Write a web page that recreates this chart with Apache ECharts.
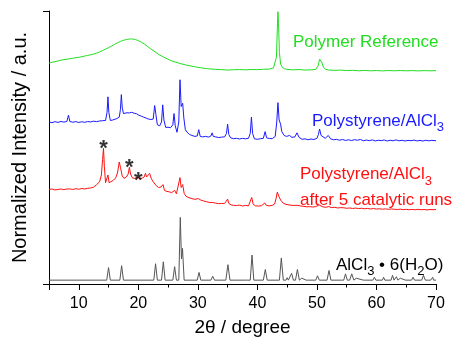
<!DOCTYPE html>
<html><head><meta charset="utf-8">
<script src="https://cdn.jsdelivr.net/npm/echarts@6/dist/echarts.min.js"></script>
<style>html,body{margin:0;padding:0;background:#fff}#c{width:457px;height:342px}</style>
</head><body><div id="c"></div>
<script>
// ---- data (2θ in degrees, intensity in arbitrary units above each trace's own baseline) ----
const xTickLabels = [10, 20, 30, 40, 50, 60, 70];
const traceNames = ['AlCl3·6(H2O)', 'Polystyrene/AlCl3 after 5 catalytic runs', 'Polystyrene/AlCl3', 'Polymer Reference'];
const traceOffsets = [4, 77, 148, 220];

const alcl3Hydrate = [
  [5,0],[14.7,0],[15.0,13],[15.3,0],[16.9,0],[17.2,15],[17.5,0],[22.6,0],[22.9,17],[23.2,0],
  [23.9,0],[24.2,19],[24.5,0],[25.8,0],[26.1,14],[26.4,0],[26.8,0],[27.05,65],[27.25,22],[27.42,33],
  [27.7,0],[29.9,0],[30.2,8],[30.5,0],[32.2,0],[32.5,4],[32.8,0],[34.7,0],[35.05,16],[35.4,0],
  [37.8,0],[38.0,1.5],[38.2,0],[38.8,0],[39.1,26],[39.4,0],[41.0,0],[41.33,11],[41.65,0],
  [43.7,0],[44.02,23],[44.35,0],[44.8,0],[45.0,2.5],[45.2,0],[45.45,0],[45.75,7],[46.05,0],
  [46.4,0],[46.72,11],[47.05,0],[47.3,0],[47.45,2],[47.6,0],[48.2,0],[48.4,2],[48.6,0],
  [49.8,0],[50.1,4.5],[50.4,0],[51.7,0],[52.03,10],[52.35,0],[53.7,0],[53.9,1.2],[54.1,0],
  [54.5,0],[54.8,6.5],[55.1,0],[55.5,0],[55.85,6.5],[56.2,0],[56.4,0],[56.6,2],[56.8,0],
  [57.8,0],[58.0,1],[58.2,0],[59.4,0],[59.65,3],[59.9,0],[61.0,0],[61.2,3],[61.4,0],
  [62.45,0],[62.7,5],[62.95,0],[63.1,0],[63.35,3.5],[63.6,0],[63.8,0],[64.0,2],[64.2,0],
  [64.9,0],[65.1,1.5],[65.3,0],[65.9,0],[66.15,3],[66.4,0],[67.6,0],[67.9,5],[68.2,0],
  [68.7,0],[68.9,2],[69.1,0],[69.3,0],[69.45,3],[69.6,0],[70,0]
];

const afterRuns = [
  [5,21],[5.5,21.5],[6,20.5],[6.5,21],[7,21.5],[7.5,20.8],[8.0,21.5],[8.3,23],[8.6,21.5],[9,21],
  [9.5,21.8],[10,21.2],[10.5,22],[11,21.5],[11.5,22.2],[12,22.5],[12.5,23.5],[13,26],[13.5,29],[13.8,36],
  [14.0,52],[14.15,63.7],[14.3,45],[14.5,28],[14.7,27],[14.9,36],[15.1,28],[15.4,29],[15.8,30.5],[16.2,33],
  [16.5,38],[16.8,49.5],[17.0,44],[17.3,35],[17.6,32.5],[18.0,34],[18.3,37],[18.5,44],[18.7,37],[19.0,33],
  [19.4,32.5],[19.8,33.5],[20.1,34],[20.4,32],[20.7,31],[21.0,34],[21.2,37.7],[21.4,34],[21.6,33],[21.9,37.7],
  [22.2,32],[22.5,29],[22.75,28],[23.0,25],[23.4,23],[23.8,23.5],[24.15,26],[24.4,20],[24.8,19],[25.2,18.5],
  [25.6,17.7],[26.1,20],[26.4,16.5],[26.7,16],[27.0,33.3],[27.2,23],[27.45,26],[27.7,17],[28.0,14],[28.5,12.5],
  [29.0,11.5],[29.5,10.8],[30.1,11.5],[30.5,10],[31,9],[31.5,8.2],[32,7.5],[32.5,7.5],[33,6.8],[33.5,6.3],
  [34,6.5],[34.5,6.5],[34.8,8],[35.0,11],[35.2,6.5],[35.6,5],[36,4.5],[36.5,4.3],[37,4.8],[37.5,3.8],
  [38,4.5],[38.5,4],[38.8,6],[39.05,12.7],[39.3,5.5],[39.7,4],[40.2,3.8],[40.7,4.2],[41.0,4.5],[41.25,7],
  [41.5,4.5],[42,4],[42.5,4.5],[42.9,6],[43.15,12],[43.35,18.3],[43.6,14],[43.9,10],[44.3,7],[44.8,5.5],
  [45.3,5],[45.8,4.5],[46.3,4.5],[46.55,5.8],[46.8,4.5],[47.3,3.8],[47.8,3.5],[48.3,3],[48.8,3.2],[49.3,2.8],
  [49.8,3.2],[50.1,4],[50.35,5],[50.6,4],[51.0,3],[51.5,2.5],[52.0,3.3],[52.4,2.2],[53,2.5],[53.5,1.8],
  [54,2.2],[54.5,2],[55,1.5],[55.5,1.8],[56,1.3],[56.5,1.7],[57,1.2],[57.5,1.5],[58,1],[58.5,1.3],
  [59,0.8],[59.5,1.2],[60,0.7],[60.5,1],[61,0.5],[61.5,0.9],[62,0.4],[62.5,0.8],[63,0.5],[63.5,0.2],
  [64,0.6],[64.5,0.1],[65,0.4],[65.5,0],[66,0.3],[66.5,0],[67,0.4],[67.5,0],[68,0.2],[68.5,-0.2],
  [69,0.2],[69.5,0],[70,0.2]
];

const polystyreneAlcl3 = [
  [5,20],[5.5,19.2],[6,20.3],[6.5,19.5],[7,20.5],[7.5,19.8],[8.0,20.5],[8.27,27],[8.5,20.5],[9,19.7],
  [9.5,20.3],[10,19.5],[10.5,20.2],[11,19.6],[11.5,20.4],[12,20],[12.5,20.8],[13,20.3],[13.5,21],[14,21.3],
  [14.5,21.5],[14.75,30],[14.9,46],[15.05,30],[15.3,21.5],[15.7,22],[16.0,22.5],[16.4,23.5],[16.8,25],[17.0,33],
  [17.15,48.3],[17.3,35],[17.5,28.7],[17.8,28.5],[18.1,29.5],[18.5,29.3],[18.9,30],[19.3,29],[19.7,28.5],[20.1,27],
  [20.5,26],[20.9,25],[21.3,24],[21.7,23],[22.1,22.5],[22.5,23],[22.75,37],[22.95,28],[23.2,17],[23.6,16],
  [23.9,20],[24.1,37.7],[24.3,22],[24.6,14.3],[25,14.5],[25.4,14],[25.8,17],[26.0,28.7],[26.2,16],[26.5,9.3],
  [26.8,20],[27.0,63.7],[27.2,36],[27.45,39.3],[27.65,24],[27.9,12],[28.2,9.3],[28.6,7],[29,6],[29.5,5],
  [29.9,5.5],[30.15,12],[30.4,5],[30.8,4.5],[31.3,5],[31.8,4.3],[32.2,5.5],[32.4,8.7],[32.6,5],[33,4.5],
  [33.5,3.8],[34,4.3],[34.5,4.5],[34.8,8],[35.0,17.7],[35.2,7],[35.5,3.5],[36,2.7],[36.5,3],[37,2.3],
  [37.5,3],[38,2.5],[38.5,3],[38.8,8],[39.0,25],[39.2,8],[39.5,2.5],[40,2],[40.5,2.6],[41.0,3],
  [41.3,10],[41.55,3.5],[42,2.8],[42.5,2.7],[43.0,5],[43.25,20],[43.45,40],[43.65,22],[43.9,17.7],[44.1,10],
  [44.5,6],[44.9,5],[45.4,6],[45.8,4],[46.3,4.5],[46.65,8.7],[47.0,4],[47.5,2],[48,2.5],[48.5,1.5],
  [49,2.3],[49.5,1.8],[50.0,3],[50.25,7],[50.45,12.7],[50.7,6],[51.0,4.3],[51.4,3],[51.9,6],[52.3,2.5],
  [52.8,1.5],[53.3,2],[53.8,1],[54.3,1.8],[54.8,0.8],[55.3,1.5],[55.8,0.7],[56.3,1.6],[56.8,1],[57.3,1.8],
  [57.8,0.5],[58.3,1.2],[58.8,0.6],[59.3,1.4],[59.8,0.3],[60.3,1],[60.8,0.6],[61.3,1.3],[61.8,0.2],[62.3,1],
  [62.8,0.5],[63.3,1.4],[63.8,0.4],[64.3,1],[64.8,0.2],[65.3,0.9],[65.8,0.5],[66.3,1.2],[66.8,0.3],[67.3,0.9],
  [67.8,0.2],[68.3,1],[68.8,0.4],[69.3,0.9],[70,0.5]
];

const polymerReference = [
  [5,9],[5.5,9.8],[6,10.5],[6.5,11.2],[7,12],[7.5,12.6],[8,13],[8.5,13.5],[9,14],[9.5,14.6],
  [10,15],[10.5,15.6],[11,16.3],[11.5,17],[12,17.6],[12.5,18.3],[13,19.3],[13.5,20.5],[14,22],[14.5,23.5],
  [15,25],[15.5,26.6],[16,28.4],[16.5,30],[17,31.5],[17.5,32.6],[18,33.4],[18.5,34],[19,34],[19.5,33.4],
  [20,32.3],[20.5,30.8],[21,28.8],[21.5,26.5],[22,24.2],[22.5,22],[23,19.8],[23.5,17.7],[24,16],[24.5,14.4],
  [25,13],[25.5,11.6],[26,10.5],[26.5,9.6],[27,8.6],[27.5,7.8],[28,7],[28.5,6.4],[29,5.8],[29.5,5.2],
  [30,4.6],[30.5,4.2],[31,3.6],[31.5,3.3],[32,3],[33,2.5],[34,2.2],[35,1.8],[36,2.1],[37,2.3],
  [38,2.0],[39,2.4],[40,2.2],[41,2.6],[42,2.8],[42.7,4],[43.0,6],[43.2,15],[43.35,45],[43.45,62.3],
  [43.55,50],[43.7,20],[43.9,8],[44.2,4.5],[44.6,3],[45,2.5],[46,2],[47,2.3],[48,1.8],[49,2],
  [49.8,2.5],[50.2,6],[50.45,13],[50.6,14.7],[50.8,10],[51.1,4.5],[51.5,2.5],[52,1.8],[53,1.5],[54,1.7],
  [55,1.2],[56,1.5],[57,1],[58,1.4],[59,1],[60,1.3],[61,0.9],[62,1.3],[63,1.0],[64,1.3],
  [65,1.0],[66,1.2],[67,0.9],[68,1.2],[69,1],[70,1.2]
];

// peaks of the "after 5 catalytic runs" trace that are marked with an asterisk
const markedPeaks = [[14.15, 63.7], [18.5, 44], [20.0, 30.5]];

// ---- chart ----
const FONT = 'Liberation Sans, Arial, sans-serif';
const colors = ['#555555', '#ff1010', '#1a1aff', '#22dd22'];
const traces = [alcl3Hydrate, afterRuns, polystyreneAlcl3, polymerReference];

const series = traces.map((d, i) => ({
  name: traceNames[i],
  type: 'line',
  xAxisIndex: 0,
  yAxisIndex: 0,
  showSymbol: false,
  symbol: 'none',
  data: d.map(p => [p[0], p[1] + traceOffsets[i]]),
  lineStyle: { color: colors[i], width: 1 },
  silent: true,
  z: 2 + i
}));

series.push({
  type: 'scatter',
  xAxisIndex: 0,
  yAxisIndex: 0,
  symbolSize: 0,
  data: markedPeaks.map(p => [p[0], p[1] + traceOffsets[1]]),
  label: {
    show: true, position: 'top', distance: -12, formatter: '*',
    color: '#000', fontSize: 22, fontWeight: 'bold', fontFamily: FONT
  },
  silent: true,
  z: 10
});

const richStyles = (lh) => ({
  n: { fontSize: 17, fontFamily: FONT, lineHeight: lh, verticalAlign: 'middle' },
  s: { fontSize: 13, fontFamily: FONT, lineHeight: 12, verticalAlign: 'bottom' }
});

const chart = echarts.init(document.getElementById('c'), null, { renderer: 'canvas' });
chart.setOption({
  animation: false,
  backgroundColor: '#fff',
  grid: { left: 49, right: 21, top: 11, bottom: 48, containLabel: false },
  xAxis: [{
    type: 'value', min: 5, max: 70,
    name: '2\u03b8 / degree', nameLocation: 'middle', nameGap: 34,
    nameTextStyle: { fontSize: 19, color: '#000', fontFamily: FONT },
    axisLine: { show: true, onZero: false, lineStyle: { color: '#000', width: 1 } },
    axisTick: { show: true, length: 6, lineStyle: { color: '#000' } },
    axisLabel: {
      show: true, margin: 12, fontSize: 16, color: '#000', fontFamily: FONT,
      formatter: v => xTickLabels.includes(v) ? String(v) : ''
    },
    splitLine: { show: false }
  }, {
    type: 'value', min: 5, max: 70, interval: 5, position: 'bottom',
    axisLine: { show: false },
    axisTick: { show: true, length: 3.5, lineStyle: { color: '#000' } },
    axisLabel: { show: false },
    splitLine: { show: false }
  }],
  yAxis: {
    type: 'value', min: 0, max: 283, interval: 283,
    name: 'Normalized Intensity / a.u.', nameLocation: 'middle', nameGap: 19,
    nameTextStyle: { fontSize: 20, color: '#000', fontFamily: FONT },
    axisLine: { show: true, lineStyle: { color: '#000', width: 1 } },
    axisTick: { show: true, length: 6, lineStyle: { color: '#000' } },
    axisLabel: { show: false },
    splitLine: { show: false }
  },
  series: series,
  graphic: [
    { type: 'text', left: 293, top: 34, style: {
      text: 'Polymer Reference', fill: colors[3], font: '17px ' + FONT } },
    { type: 'text', left: 312, top: 113, style: {
      text: '{n|Polystyrene/AlCl}{s|3}', fill: colors[2], font: '17px ' + FONT,
      rich: richStyles(24) } },
    { type: 'text', left: 300, top: 166, style: {
      text: '{n|Polystyrene/AlCl}{s|3}\n{n|after 5 catalytic runs}', fill: colors[1], font: '17px ' + FONT,
      rich: richStyles(26) } },
    { type: 'text', left: 336, top: 257, style: {
      text: '{n|AlCl}{s|3}{n| \u2022 6(H}{s|2}{n|O)}', fill: '#000', font: '17px ' + FONT,
      rich: richStyles(24) } }
  ]
});
</script>
</body></html>
